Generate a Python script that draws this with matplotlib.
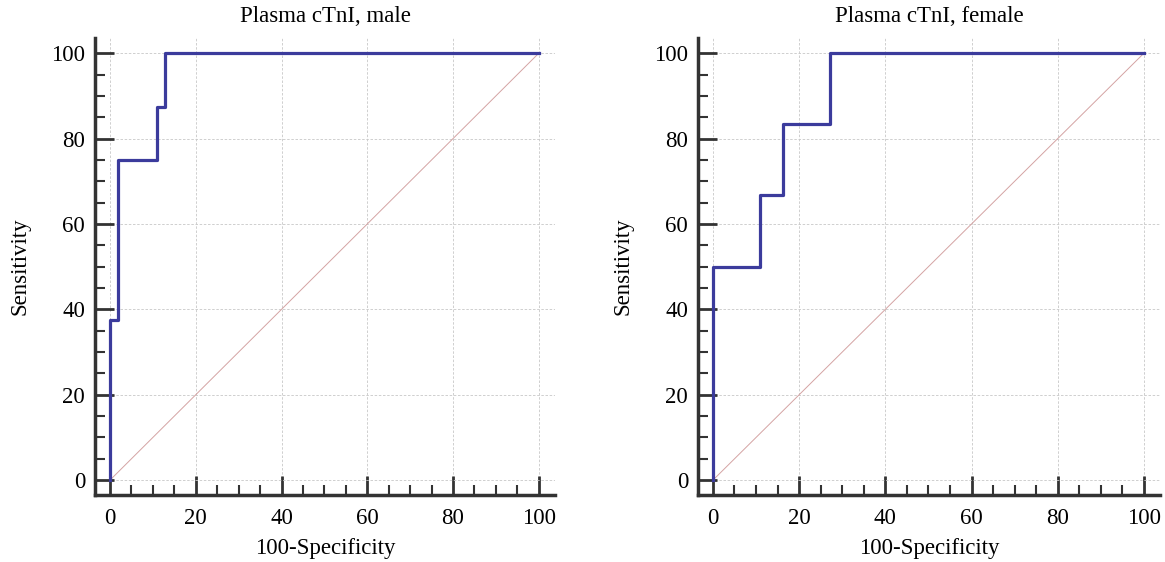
import numpy as np
import matplotlib
matplotlib.use("Agg")
import matplotlib.pyplot as plt
from matplotlib.ticker import MultipleLocator

plt.rcParams['font.family'] = ['Liberation Serif', 'DejaVu Serif']

# ROC curve points (100-Specificity, Sensitivity)
male_fpr = [0, 0, 1.82, 1.82, 10.91, 10.91, 12.73, 12.73, 100]
male_tpr = [0, 37.5, 37.5, 75, 75, 87.5, 87.5, 100, 100]

female_fpr = [0, 0, 10.91, 10.91, 16.36, 16.36, 27.27, 27.27, 100]
female_tpr = [0, 50, 50, 66.67, 66.67, 83.33, 83.33, 100, 100]

titles = ['Plasma cTnI, male', 'Plasma cTnI, female']
ticks = [0, 20, 40, 60, 80, 100]

fig = plt.figure(figsize=(11.65, 5.62), dpi=100)
ax1 = fig.add_axes([0.0815, 0.119, 0.395, 0.813])
ax2 = fig.add_axes([0.599, 0.119, 0.397, 0.813])

curves = [(male_fpr, male_tpr), (female_fpr, female_tpr)]
for ax, (fx, fy), title in zip([ax1, ax2], curves, titles):
    ax.plot([0, 100], [0, 100], color='#d4a3a3', lw=0.7, zorder=2)
    ax.plot(fx, fy, color='#3b3b9c', lw=2.3, zorder=3)
    ax.set_xlim(-3.5, 103.8)
    ax.set_ylim(-3.5, 103.5)
    ax.set_xticks(ticks)
    ax.set_yticks(ticks)
    ax.xaxis.set_minor_locator(MultipleLocator(5))
    ax.yaxis.set_minor_locator(MultipleLocator(5))
    ax.tick_params(which='major', direction='in', length=14, width=2, color='#333333',
                   labelsize=16.5, pad=7)
    ax.tick_params(axis='x', which='major', pad=9)
    ax.tick_params(which='minor', direction='in', length=7, width=1.5, color='#333333')
    ax.grid(True, which='major', color='#c8c8c8', ls=(0, (3, 2)), lw=0.6)
    for s in ['top', 'right']:
        ax.spines[s].set_visible(False)
    for s in ['left', 'bottom']:
        ax.spines[s].set_linewidth(2.5)
        ax.spines[s].set_color('#333333')
    ax.set_title(title, fontsize=16.5, pad=12)
    ax.set_xlabel('100-Specificity', fontsize=16.5, labelpad=7)
    ax.set_ylabel('Sensitivity', fontsize=16.5, labelpad=15)

fig.savefig('out.png', dpi=100)
